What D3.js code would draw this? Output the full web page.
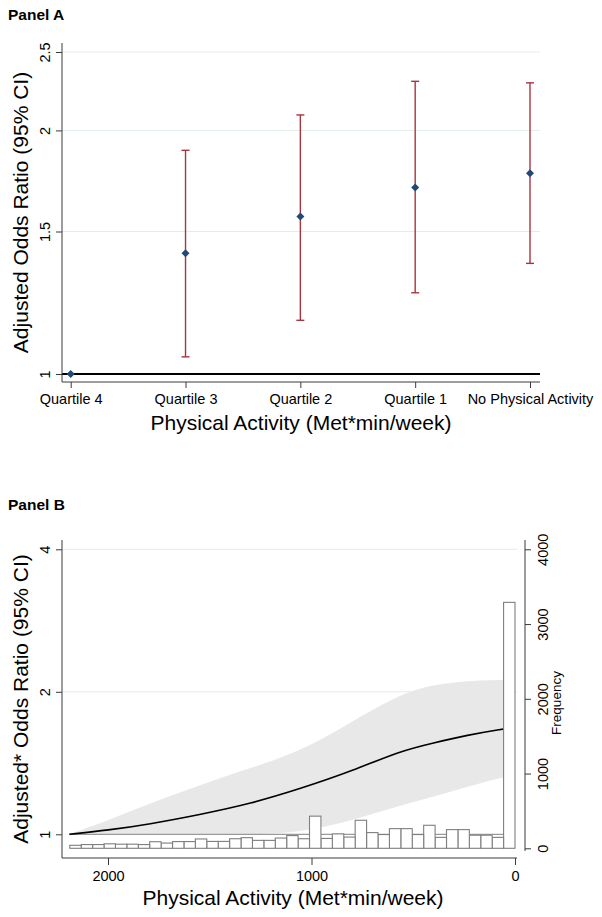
<!DOCTYPE html>
<html>
<head>
<meta charset="utf-8">
<script src="https://cdn.jsdelivr.net/npm/d3@7"></script>
<style>
  html, body { margin: 0; padding: 0; background: #fff; }
  svg { display: block; }
  text { font-family: "Liberation Sans", Arial, Helvetica, sans-serif; fill: #000; }
</style>
</head>
<body>
<script>
// ---------------- Panel A data ----------------
const categoriesA = ["Quartile 4", "Quartile 3", "Quartile 2", "Quartile 1", "No Physical Activity"];
const oddsA  = [1.00, 1.41, 1.565, 1.70, 1.77];
const lowerA = [null, 1.05, 1.165, 1.26, 1.37];
const upperA = [null, 1.89, 2.09, 2.30, 2.29];
const yTicksA = [1, 1.5, 2, 2.5];
const yTickLabelsA = ["1", "1.5", "2", "2.5"];

// ---------------- Panel B data ----------------
const activityB = [0, 60, 235, 400, 565, 800, 1050, 1300, 1550, 1800, 2000, 2190];
const oddsB     = [1.68, 1.67, 1.62, 1.56, 1.50, 1.36, 1.25, 1.16, 1.10, 1.05, 1.02, 1.00];
const upperB    = [2.12, 2.12, 2.11, 2.07, 1.98, 1.73, 1.50, 1.38, 1.27, 1.16, 1.07, 1.00];
const lowerB    = [1.33, 1.32, 1.26, 1.20, 1.15, 1.07, 1.01, 0.998, 0.998, 0.998, 0.999, 1.00];
// histogram frequencies, first bin starts at 0 Met*min/week
const histFreq  = [3290, 146, 175, 175, 250, 250, 146, 308, 184, 263, 263, 184, 210, 375, 150,
                   193, 132, 430, 128, 170, 137, 106, 106, 142, 128, 92, 92, 125, 90, 90,
                   70, 88, 50, 55, 55, 60, 50, 50, 40];
const histBinWidth = 56.1;
const xTicksB = [2000, 1000, 0];
const yTicksB = [1, 2, 4];
const y2TicksB = [0, 1000, 2000, 3000, 4000];

const W = 602, H = 917;
const svg = d3.select("body").append("svg").attr("width", W).attr("height", H);
svg.append("rect").attr("width", W).attr("height", H).attr("fill", "#fff");

const axisColor = "#3a3a3a";
const gridColor = "#e3eced";
const tickFont = "14.5px";
const titleFont = "21px";

// =============== PANEL A ===============
svg.append("text").attr("x", 8).attr("y", 20).style("font-size", "15.5px").style("font-weight", "bold").text("Panel A");

const xA = d3.scalePoint().domain(categoriesA).range([70.7, 530]);
const yA = d3.scaleLog().domain([1, 2.5]).range([374, 52]);
const A = { left: 62, right: 540, top: 43, bottom: 382 };

// grid
svg.append("g").selectAll("line").data(yTicksA.filter(d => d !== 1)).join("line")
  .attr("x1", A.left).attr("x2", A.right)
  .attr("y1", d => yA(d)).attr("y2", d => yA(d))
  .attr("stroke", gridColor).attr("stroke-width", 1);

// reference line at 1
svg.append("line").attr("x1", A.left).attr("x2", A.right)
  .attr("y1", yA(1)).attr("y2", yA(1)).attr("stroke", "#000").attr("stroke-width", 2);

// y axis
const gyA = svg.append("g").attr("transform", `translate(${A.left},0)`)
  .call(d3.axisLeft(yA).tickValues(yTicksA).tickFormat((d, i) => yTickLabelsA[i]).tickSize(6).tickPadding(6));
gyA.select(".domain").attr("d", `M0,${A.top}V${A.bottom}`).attr("stroke", axisColor);
gyA.selectAll(".tick line").attr("stroke", axisColor);
gyA.selectAll(".tick text")
  .attr("x", null).attr("dy", null)
  .attr("transform", "translate(-12,0) rotate(-90)")
  .attr("text-anchor", "middle")
  .style("font-size", tickFont).style("font-family", null);

// x axis
const gxA = svg.append("g").attr("transform", `translate(0,${A.bottom})`)
  .call(d3.axisBottom(xA).tickSize(6).tickPadding(5));
gxA.select(".domain").attr("d", `M${A.left},0H${A.right}`).attr("stroke", axisColor);
gxA.selectAll(".tick line").attr("stroke", axisColor);
gxA.selectAll(".tick text").style("font-size", tickFont).style("font-family", null).attr("dy", "0.75em");

// CI bars
const ciColor = "#a8353d";
const ciData = categoriesA.map((c, i) => ({ c, lo: lowerA[i], hi: upperA[i], or: oddsA[i] })).filter(d => d.lo !== null);
const gCI = svg.append("g").attr("stroke", ciColor).attr("stroke-width", 1.4);
gCI.selectAll("line.v").data(ciData).join("line")
  .attr("x1", d => xA(d.c)).attr("x2", d => xA(d.c))
  .attr("y1", d => yA(d.lo)).attr("y2", d => yA(d.hi));
gCI.selectAll("line.lo").data(ciData).join("line")
  .attr("x1", d => xA(d.c) - 4).attr("x2", d => xA(d.c) + 4)
  .attr("y1", d => yA(d.lo)).attr("y2", d => yA(d.lo));
gCI.selectAll("line.hi").data(ciData).join("line")
  .attr("x1", d => xA(d.c) - 4).attr("x2", d => xA(d.c) + 4)
  .attr("y1", d => yA(d.hi)).attr("y2", d => yA(d.hi));

// points (diamonds)
svg.append("g").selectAll("path").data(categoriesA.map((c, i) => ({ c, or: oddsA[i] }))).join("path")
  .attr("d", d3.symbol(d3.symbolSquare, 32))
  .attr("transform", d => `translate(${xA(d.c)},${yA(d.or)}) rotate(45)`)
  .attr("fill", "#1f4a78");

// axis titles
svg.append("text").attr("x", 301).attr("y", 430).attr("text-anchor", "middle")
  .style("font-size", titleFont).text("Physical Activity (Met*min/week)");
svg.append("text").attr("transform", `translate(28,${(A.top + A.bottom) / 2}) rotate(-90)`)
  .attr("text-anchor", "middle").style("font-size", titleFont).text("Adjusted Odds Ratio (95% CI)");

// =============== PANEL B ===============
svg.append("text").attr("x", 8).attr("y", 510).style("font-size", "15.5px").style("font-weight", "bold").text("Panel B");

const B = { left: 62, right: 525, top: 540, bottom: 858 };
const xB = d3.scaleLinear().domain([0, 2000]).range([515, 108]);
const yB = d3.scaleLog().domain([1, 4]).range([834.3, 549.3]);
const y2B = d3.scaleLinear().domain([0, 4000]).range([848.3, 549.3]);

// grid
svg.append("g").selectAll("line").data(yTicksB.filter(d => d !== 1)).join("line")
  .attr("x1", B.left + 1).attr("x2", 517)
  .attr("y1", d => yB(d)).attr("y2", d => yB(d))
  .attr("stroke", gridColor).attr("stroke-width", 1);

const curveData = activityB.map((a, i) => ({ a, or: oddsB[i], lo: lowerB[i], hi: upperB[i] }))
  .sort((p, q) => q.a - p.a);

// CI band
svg.append("path").datum(curveData)
  .attr("d", d3.area().x(d => xB(d.a)).y0(d => yB(d.lo)).y1(d => yB(d.hi)).curve(d3.curveBasis))
  .attr("fill", "#e8e8e8");

// reference line at 1
svg.append("line").attr("x1", xB(2190)).attr("x2", xB(0))
  .attr("y1", yB(1)).attr("y2", yB(1)).attr("stroke", "#9a9a9a").attr("stroke-width", 1.2);

// estimate line
svg.append("path").datum(curveData)
  .attr("d", d3.line().x(d => xB(d.a)).y(d => yB(d.or)).curve(d3.curveBasis))
  .attr("fill", "none").attr("stroke", "#000").attr("stroke-width", 1.6);

// histogram
svg.append("g").selectAll("rect").data(histFreq.map((f, i) => ({ f, x0: i * histBinWidth, x1: (i + 1) * histBinWidth }))).join("rect")
  .attr("x", d => xB(d.x1)).attr("width", d => xB(d.x0) - xB(d.x1))
  .attr("y", d => y2B(d.f)).attr("height", d => y2B(0) - y2B(d.f))
  .attr("fill", "#fff").attr("stroke", "#7f7f7f").attr("stroke-width", 1.1);

// left axis
const gyB = svg.append("g").attr("transform", `translate(${B.left},0)`)
  .call(d3.axisLeft(yB).tickValues(yTicksB).tickFormat(d3.format("d")).tickSize(6).tickPadding(6));
gyB.select(".domain").attr("d", `M0,${B.top}V${B.bottom}`).attr("stroke", axisColor);
gyB.selectAll(".tick line").attr("stroke", axisColor);
gyB.selectAll(".tick text")
  .attr("x", null).attr("dy", null)
  .attr("transform", "translate(-12,0) rotate(-90)")
  .attr("text-anchor", "middle")
  .style("font-size", tickFont).style("font-family", null);

// right axis (frequency)
const gy2B = svg.append("g").attr("transform", `translate(${B.right},0)`)
  .call(d3.axisRight(y2B).tickValues(y2TicksB).tickFormat(d3.format("d")).tickSize(6).tickPadding(6));
gy2B.select(".domain").attr("d", `M0,${B.top}V851`).attr("stroke", axisColor);
gy2B.selectAll(".tick line").attr("stroke", axisColor);
gy2B.selectAll(".tick text")
  .attr("x", null).attr("dy", null)
  .attr("transform", "translate(23,0) rotate(-90)")
  .attr("text-anchor", "middle")
  .style("font-size", tickFont).style("font-family", null);

// bottom axis
const gxB = svg.append("g").attr("transform", `translate(0,${B.bottom})`)
  .call(d3.axisBottom(xB).tickValues(xTicksB).tickFormat(d3.format("d")).tickSize(7).tickPadding(5));
gxB.select(".domain").attr("d", `M${B.left},0H517`).attr("stroke", axisColor);
gxB.selectAll(".tick line").attr("stroke", axisColor);
gxB.selectAll(".tick text").style("font-size", tickFont).style("font-family", null).attr("dy", "0.75em");

// titles
svg.append("text").attr("x", 293).attr("y", 905).attr("text-anchor", "middle")
  .style("font-size", titleFont).text("Physical Activity (Met*min/week)");
svg.append("text").attr("transform", `translate(28,${(B.top + B.bottom) / 2}) rotate(-90)`)
  .attr("text-anchor", "middle").style("font-size", titleFont).text("Adjusted* Odds Ratio (95% CI)");
svg.append("text").attr("transform", `translate(561,703) rotate(-90)`)
  .attr("text-anchor", "middle").style("font-size", "13.5px").text("Frequency");
</script>
</body>
</html>
